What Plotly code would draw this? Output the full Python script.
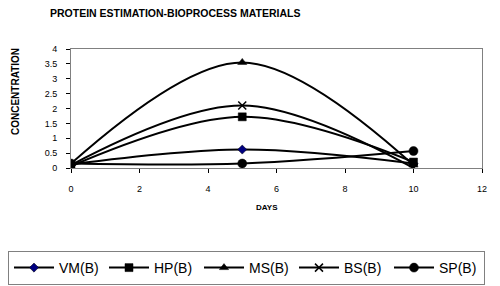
import plotly.graph_objects as go

days = [0, 5, 10]
series_names = ["VM(B)", "HP(B)", "MS(B)", "BS(B)", "SP(B)"]
vm = [0.12, 0.62, 0.15]
hp = [0.06, 1.72, 0.2]
ms = [0.15, 3.55, 0.1]
bs = [0.1, 2.1, 0.0]
sp = [0.15, 0.15, 0.57]
values = [vm, hp, ms, bs, sp]
symbols = ["diamond", "square", "triangle-up", "x-thin", "circle"]
colors = ["#000080", "black", "black", "black", "black"]
sizes = [7, 8, 8, 8, 9]

W, H = 500, 286
fig = go.Figure()
for name, vals, sym, col, sz in zip(series_names, values, symbols, colors, sizes):
    fig.add_trace(go.Scatter(
        x=days, y=vals, name=name, mode="lines+markers",
        line=dict(color="black", width=2, shape="spline", smoothing=1),
        marker=dict(symbol=sym, color=col, size=sz,
                    line=dict(color="black", width=1.5 if sym == "x-thin" else 0.5)),
    ))

font = "Liberation Sans, Arial, sans-serif"
fig.update_layout(
    width=W, height=H,
    margin=dict(l=0, r=0, t=0, b=0, autoexpand=False),
    paper_bgcolor="white", plot_bgcolor="white",
    font=dict(family=font, size=9, color="black"),
    showlegend=True,
    legend=dict(orientation="h", x=8 / W, xanchor="left", y=1 - 251 / H, yanchor="top",
                bordercolor="#808080", borderwidth=1,
                font=dict(size=14, family=font), itemwidth=40,
                entrywidth=40, entrywidthmode="pixels",
                tracegroupgap=0),
    xaxis=dict(domain=[71 / W, 482 / W], range=[0, 12], tickvals=[0, 2, 4, 6, 8, 10, 12],
               showgrid=False, zeroline=False, showline=True, linecolor="#808080", mirror=True,
               ticks="outside", ticklen=4, tickcolor="black", tickfont=dict(size=9),
               ticklabelstandoff=8),
    yaxis=dict(domain=[1 - 168 / H, 1 - 49 / H], range=[0, 4],
               tickvals=[0, 0.5, 1, 1.5, 2, 2.5, 3, 3.5, 4],
               showgrid=False, zeroline=False, showline=True, linecolor="#808080", mirror=True,
               ticks="outside", ticklen=4, tickcolor="black", tickfont=dict(size=9),
               ticklabelstandoff=7),
    annotations=[
        dict(text="<b>PROTEIN ESTIMATION-BIOPROCESS MATERIALS</b>", xref="paper", yref="paper",
             x=48 / W, y=1 - 13 / H,
             xanchor="left", yanchor="middle", showarrow=False, font=dict(size=10.5)),
        dict(text="<b>DAYS</b>", xref="paper", yref="paper",
             x=267 / W, y=1 - 207 / H, xanchor="center", yanchor="middle",
             showarrow=False, font=dict(size=8)),
        dict(text="<b>CONCENTRATION</b>", xref="paper", yref="paper",
             x=15 / W, y=1 - 92 / H, xanchor="center", yanchor="middle",
             textangle=-90, showarrow=False, font=dict(size=10)),
    ],
)

fig.write_html("out.html", config={"displayModeBar": False},
               post_script="document.body.style.margin='0';document.body.style.padding='0';")
